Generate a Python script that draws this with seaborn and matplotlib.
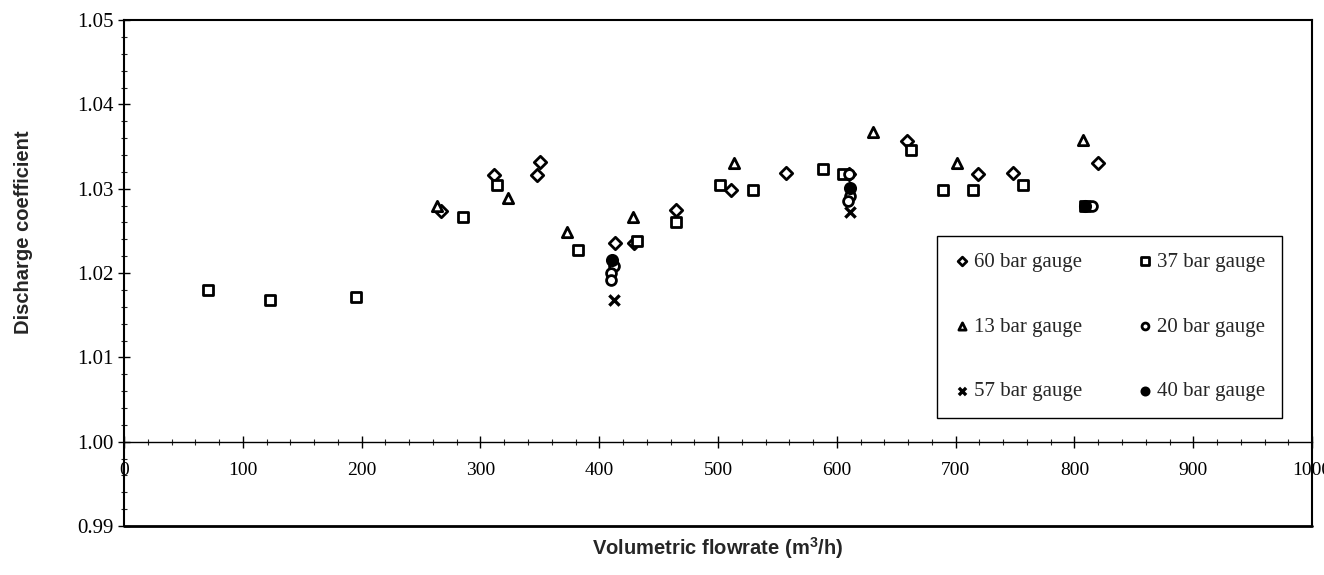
import numpy as np
import pandas as pd
import matplotlib
matplotlib.use("Agg")
import matplotlib.pyplot as plt
from matplotlib.ticker import MultipleLocator, FormatStrFormatter
import seaborn as sns

# ---- data ----
g60_x = [267, 311, 350, 348, 413, 429, 465, 511, 557, 610, 659, 719, 748, 820]
g60_y = [1.0274, 1.0316, 1.0332, 1.0316, 1.0236, 1.0236, 1.0275, 1.0299, 1.0319, 1.0318, 1.0357, 1.0317, 1.0319, 1.0331]

g37_x = [71, 123, 195, 285, 314, 382, 432, 465, 502, 529, 588, 605, 662, 689, 715, 757, 809]
g37_y = [1.0180, 1.0168, 1.0172, 1.0267, 1.0304, 1.0227, 1.0238, 1.0261, 1.0304, 1.0299, 1.0323, 1.0317, 1.0346, 1.0299, 1.0299, 1.0305, 1.0279]

g13_x = [263, 323, 373, 428, 513, 630, 701, 807]
g13_y = [1.0280, 1.0289, 1.0249, 1.0267, 1.0331, 1.0367, 1.0331, 1.0358]

g20_x = [412, 410, 410, 610, 611, 609, 815]
g20_y = [1.0208, 1.0200, 1.0192, 1.0317, 1.0291, 1.0285, 1.0280]

g57_x = [412, 611]
g57_y = [1.0168, 1.0273]

g40_x = [411, 611, 809]
g40_y = [1.0216, 1.0301, 1.0279]

labels = ["60 bar gauge", "13 bar gauge", "57 bar gauge",
          "37 bar gauge", "20 bar gauge", "40 bar gauge"]
x_ticks = list(range(0, 1001, 100))
y_ticks = [0.99, 1.00, 1.01, 1.02, 1.03, 1.04, 1.05]

sns.set_style("ticks")
plt.rcParams['font.family'] = ['Liberation Serif', 'DejaVu Sans']

fig = plt.figure(figsize=(13.24, 5.75), dpi=100)
ax = fig.add_axes([0.0937, 0.0852, 0.8973, 0.8798])

series = [
    (g60_x, g60_y, labels[0], 'D', 'white', 'black', 40),
    (g13_x, g13_y, labels[1], '^', 'white', 'black', 55),
    (g57_x, g57_y, labels[2], 'x', 'black', 'black', 55),
    (g37_x, g37_y, labels[3], 's', 'white', 'black', 55),
    (g20_x, g20_y, labels[4], 'o', 'white', 'black', 50),
    (g40_x, g40_y, labels[5], 'o', 'black', 'black', 55),
]
for xs, ys, lab, mk, fc, ec, s in series:
    df = pd.DataFrame({"x": xs, "y": ys})
    if mk == 'x':
        sns.scatterplot(data=df, x="x", y="y", marker=mk, s=s, color=fc,
                        linewidth=2.4, label=lab, ax=ax, zorder=3)
    else:
        sns.scatterplot(data=df, x="x", y="y", marker=mk, s=s, color=fc,
                        edgecolor=ec, linewidth=2.0, label=lab, ax=ax, zorder=3)

ax.set_xlim(0, 1000)
ax.set_ylim(0.99, 1.05)
ax.set_xticks(x_ticks)
ax.set_yticks(y_ticks)
ax.xaxis.set_minor_locator(MultipleLocator(20))
ax.yaxis.set_minor_locator(MultipleLocator(0.002))
ax.yaxis.set_major_formatter(FormatStrFormatter('%.2f'))

ax.spines['bottom'].set_position(('data', 1.0))
for sp in ax.spines.values():
    sp.set_linewidth(1.5)
    sp.set_color('black')
ax.spines['bottom'].set_linewidth(1.0)
ax.axhline(0.99, color='black', lw=2.0, clip_on=False, zorder=5)

ax.tick_params(axis='both', which='major', direction='inout', length=9,
               width=1.0, colors='black')
ax.tick_params(axis='both', which='minor', direction='inout', length=5, width=0.8)
ax.tick_params(axis='x', which='major', pad=10, labelsize=14)
ax.tick_params(axis='y', which='major', pad=3, labelsize=15)

ax.set_xlabel("Volumetric flowrate (m$^\\mathregular{3}$/h)", fontsize=14.5,
              fontweight='bold', family=['Liberation Sans'])
ax.set_ylabel("Discharge coefficient", fontsize=14.5, fontweight='bold',
              family=['Liberation Sans'])
ax.xaxis.set_label_coords(0.5, -0.018)
ax.yaxis.set_label_coords(-0.077, 0.58)

handles, labs = ax.get_legend_handles_labels()
order = [labs.index(l) for l in labels]
leg = ax.legend([handles[i] for i in order], [labs[i] for i in order],
                ncol=2, loc='upper left', bbox_to_anchor=(0.684, 0.574),
                fontsize=15, frameon=True, fancybox=False, markerscale=0.7,
                labelspacing=2.17, columnspacing=2.6, handletextpad=0.2,
                handlelength=0.8, borderpad=0.8, borderaxespad=0)
leg.get_frame().set_edgecolor('black')
leg.get_frame().set_linewidth(1.0)
leg.get_frame().set_alpha(1)

fig.savefig("out.png", dpi=100)
